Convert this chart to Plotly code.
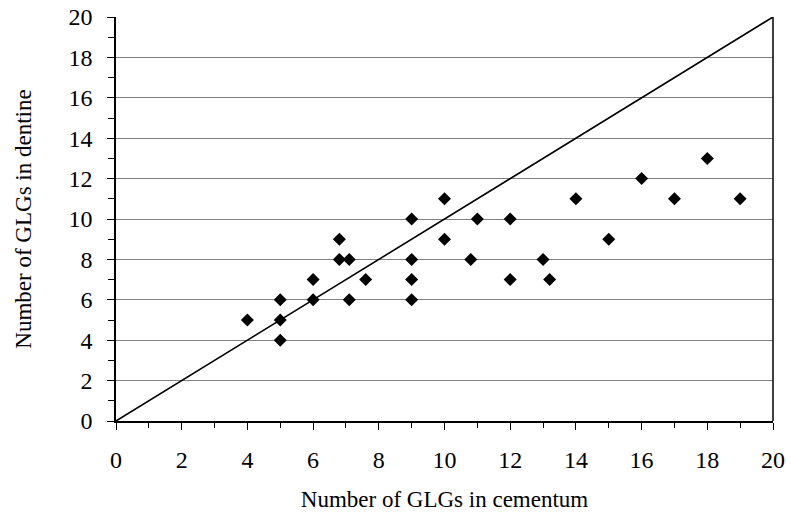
import plotly.graph_objects as go

# Growth layer group counts per specimen
cementum = [4, 5, 5, 5, 6, 6, 6.8, 6.8, 7.1, 7.1, 7.6, 9, 9, 9, 9, 10, 10,
            10.8, 11, 12, 12, 13, 13.2, 14, 15, 16, 17, 18, 19]
dentine = [5, 6, 5, 4, 7, 6, 9, 8, 8, 6, 7, 10, 8, 7, 6, 11, 9,
           8, 10, 10, 7, 8, 7, 11, 9, 12, 11, 13, 11]

# 1:1 reference line
line_x = [0, 20]
line_y = [0, 20]

tick_vals = list(range(0, 21, 2))

fig = go.Figure()
fig.add_trace(go.Scatter(x=line_x, y=line_y, mode="lines",
                         line=dict(color="black", width=1.6),
                         hoverinfo="skip", showlegend=False))
fig.add_trace(go.Scatter(x=cementum, y=dentine, mode="markers",
                         marker=dict(symbol="diamond", size=10, color="black"),
                         showlegend=False))

font = dict(family="Liberation Serif, Times New Roman, serif", color="black")

fig.update_layout(
    width=791, height=512,
    margin=dict(l=116, r=18, t=17, b=91),
    paper_bgcolor="white", plot_bgcolor="white",
    font=dict(**font, size=23),
    xaxis=dict(range=[0, 20], tickvals=tick_vals, showgrid=False, zeroline=False,
               automargin=False,
               showline=True, linecolor="black", linewidth=1.5, mirror=False,
               ticks="outside", ticklen=7, tickcolor="black",
               minor=dict(dtick=1, ticks="outside", ticklen=5, tickcolor="black"),
               tickfont=dict(**font, size=24), ticklabelstandoff=9,
               title=dict(text="Number of GLGs in cementum", font=dict(**font, size=23),
                          standoff=19)),
    yaxis=dict(range=[0, 20], tickvals=tick_vals, showgrid=True, gridcolor="#808080",
               gridwidth=1, zeroline=False, automargin=False,
               showline=True, linecolor="black", linewidth=1.5,
               ticks="outside", ticklen=7, tickcolor="black",
               minor=dict(dtick=1, ticks="outside", ticklen=6, tickcolor="black",
                          showgrid=False),
               tickfont=dict(**font, size=24), ticklabelstandoff=10,
               title=dict(text="Number of GLGs in dentine", font=dict(**font, size=23),
                          standoff=30)),
)

# right-hand frame edge
fig.add_shape(type="line", xref="paper", yref="paper", x0=1, x1=1, y0=0, y1=1,
              line=dict(color="black", width=1.5))

fig.write_html("out.html")
